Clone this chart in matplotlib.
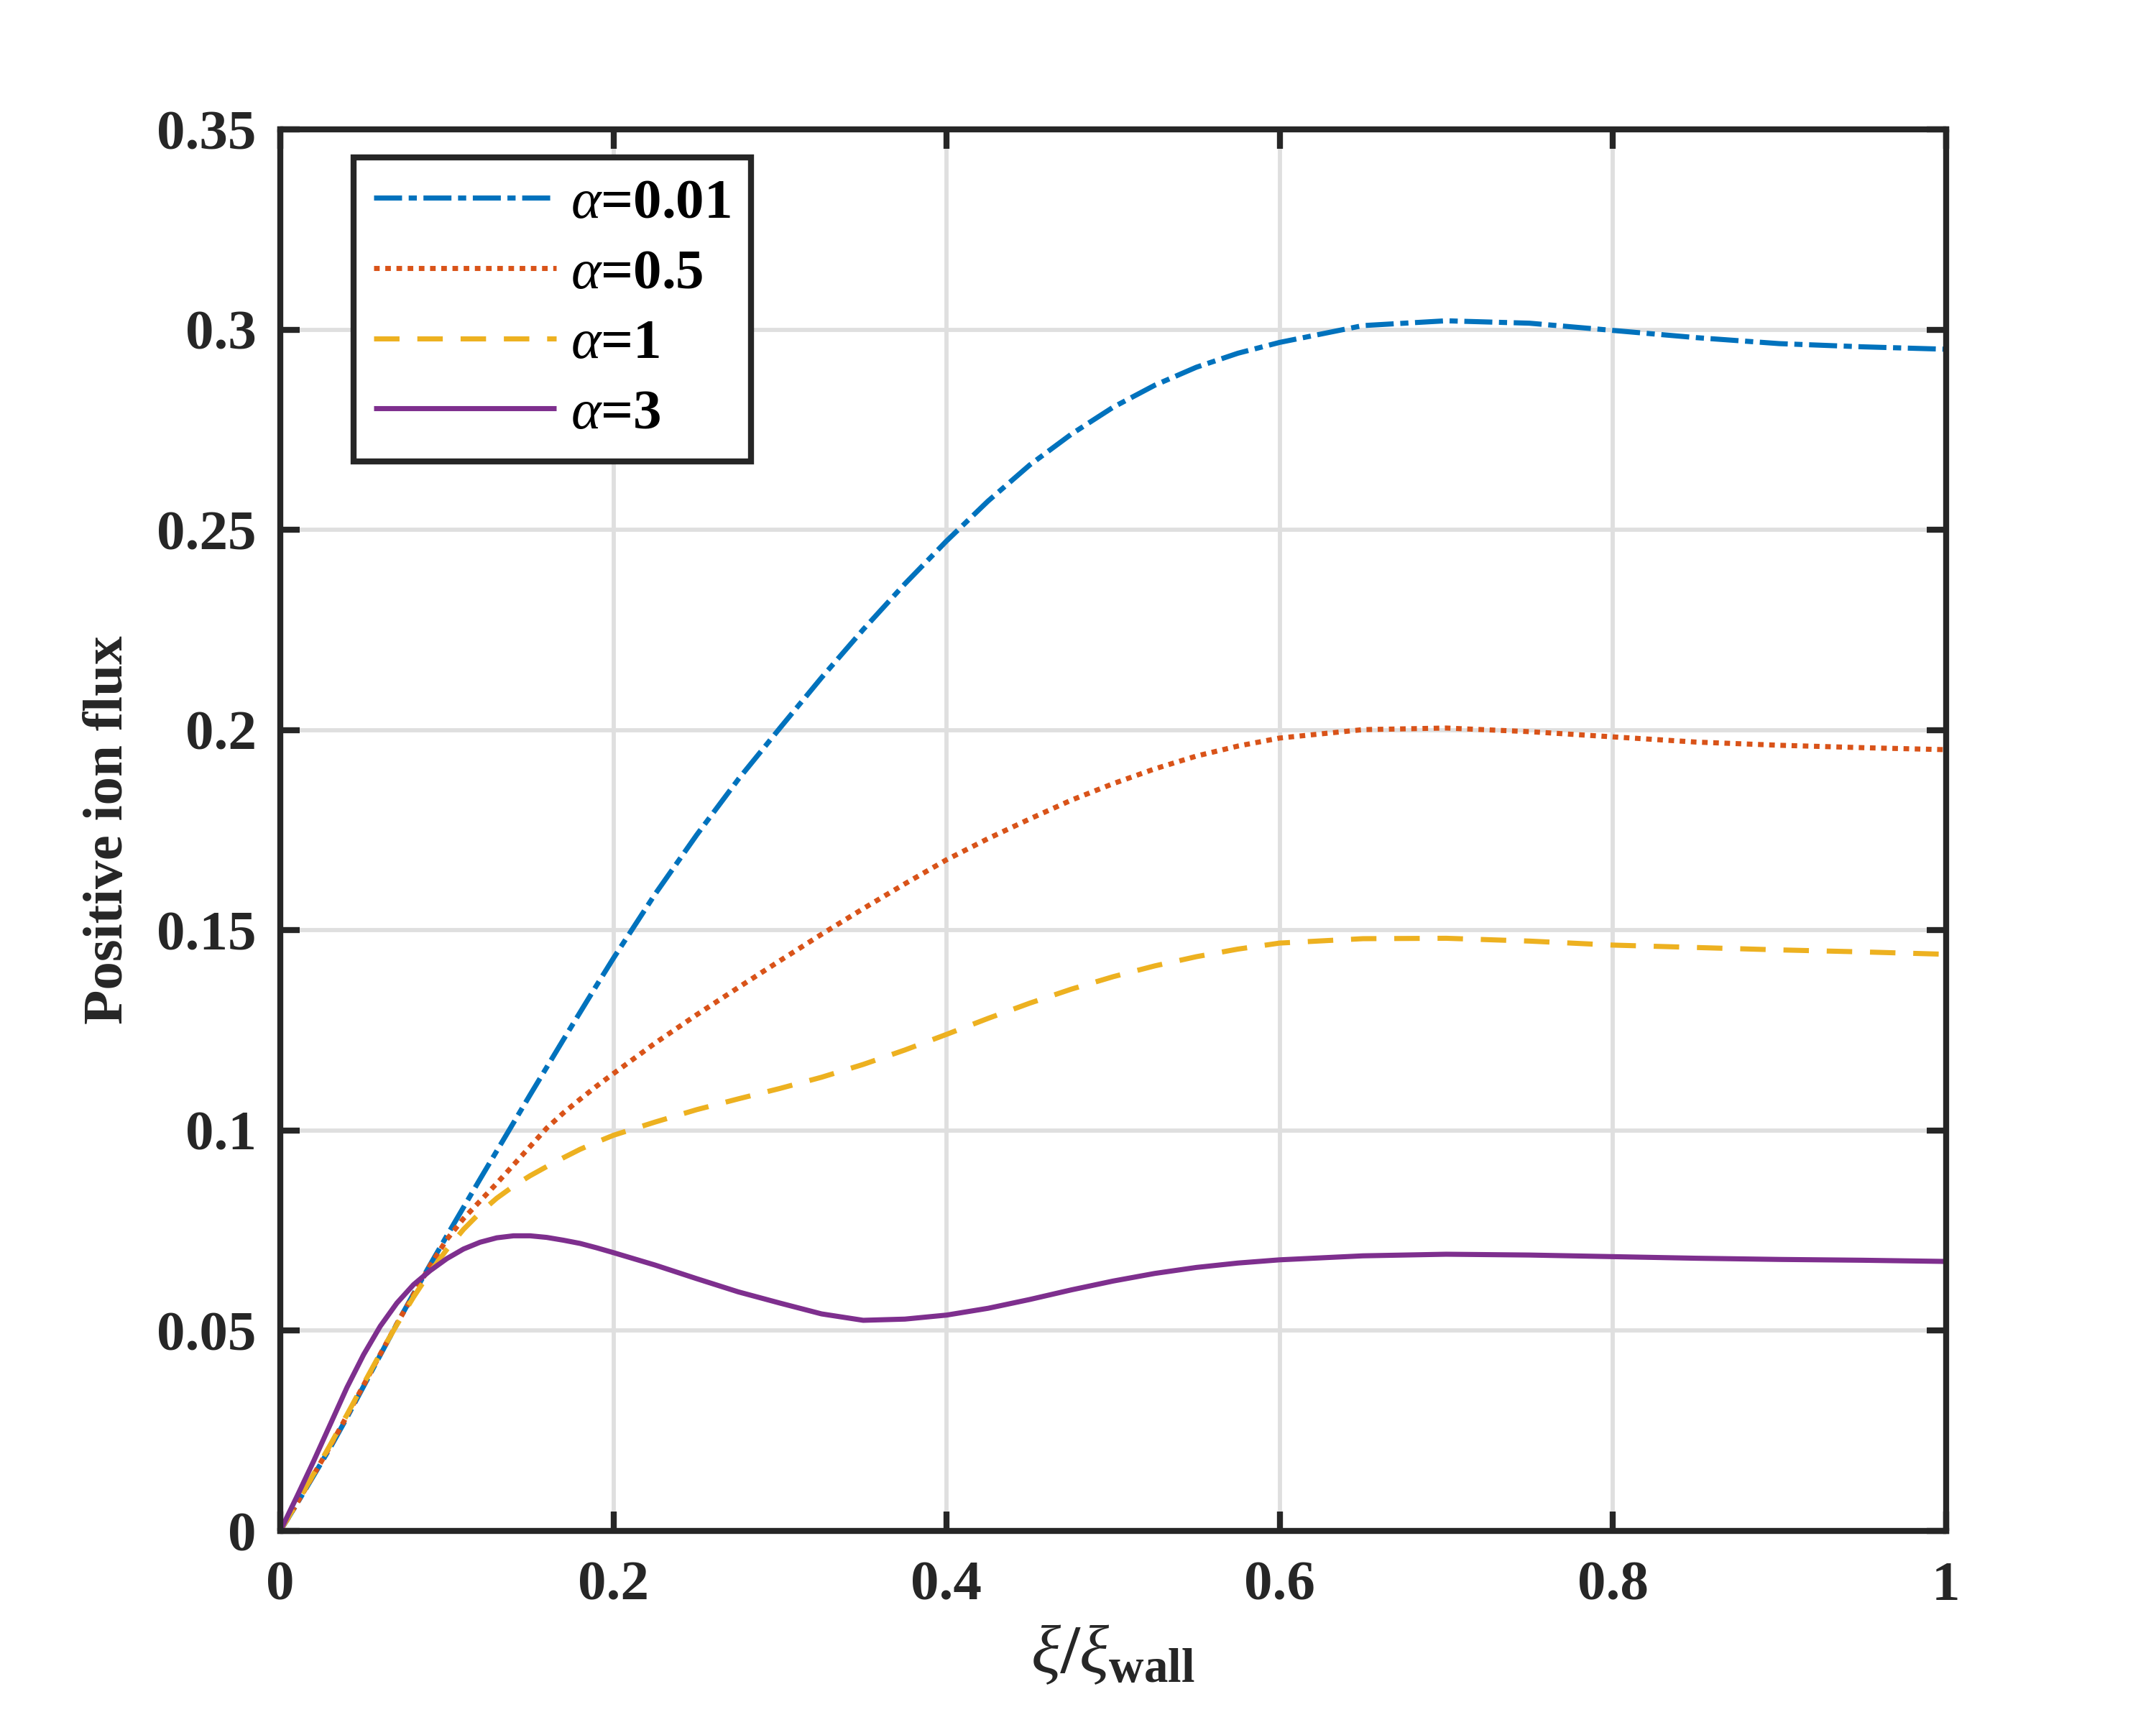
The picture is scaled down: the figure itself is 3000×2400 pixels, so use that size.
import numpy as np
import matplotlib
matplotlib.use("Agg")
import matplotlib.pyplot as plt

# values
xi = [0, 0.01, 0.02, 0.03, 0.04, 0.05, 0.06, 0.07, 0.08, 0.09, 0.1,
      0.11, 0.12, 0.13, 0.14, 0.15, 0.16, 0.17, 0.18, 0.19, 0.2,
      0.225, 0.25, 0.275, 0.3, 0.325, 0.35, 0.375, 0.4, 0.425, 0.45,
      0.475, 0.5, 0.525, 0.55, 0.575, 0.6,
      0.65, 0.7, 0.75, 0.8, 0.85, 0.9, 0.95, 1.0]

flux_001 = [0, 0.0068, 0.0138, 0.0208, 0.0283, 0.0361, 0.0439, 0.0517, 0.0592, 0.0665, 0.0737,
            0.0808, 0.0879, 0.0949, 0.1019, 0.1089, 0.1158, 0.1227, 0.1295, 0.1363, 0.143,
            0.159, 0.1738, 0.1877, 0.2005, 0.2131, 0.2251, 0.2365, 0.2472, 0.2572, 0.2662,
            0.2739, 0.2806, 0.2861, 0.2906, 0.2941, 0.2968,
            0.301, 0.3022, 0.3016, 0.2998, 0.298, 0.2965, 0.2957, 0.2951]
flux_05 = [0, 0.0069, 0.014, 0.0212, 0.0287, 0.0364, 0.0441, 0.0517, 0.059, 0.0663, 0.0728,
           0.078, 0.0824, 0.0868, 0.0914, 0.096, 0.1006, 0.1044, 0.1078, 0.1111, 0.1142,
           0.1218, 0.1289, 0.1357, 0.1424, 0.149, 0.1554, 0.1616, 0.1676, 0.1729, 0.1778,
           0.1825, 0.1866, 0.1903, 0.1935, 0.196, 0.198,
           0.2001, 0.2005, 0.1996, 0.1983, 0.197, 0.1962, 0.1956, 0.1951]
flux_1 = [0, 0.007, 0.0142, 0.0215, 0.029, 0.0367, 0.0443, 0.0515, 0.0584, 0.0647, 0.0703,
          0.0753, 0.0795, 0.0831, 0.0861, 0.0887, 0.091, 0.0932, 0.0953, 0.0971, 0.0988,
          0.1021, 0.1052, 0.1079, 0.1105, 0.1133, 0.1165, 0.1201, 0.124, 0.128, 0.1318,
          0.1353, 0.1384, 0.1411, 0.1434, 0.1453, 0.1468,
          0.1479, 0.148, 0.1473, 0.1463, 0.1457, 0.1451, 0.1446, 0.144]
flux_3 = [0, 0.0086, 0.0174, 0.0266, 0.0358, 0.044, 0.0511, 0.0569, 0.0615, 0.065, 0.068,
          0.0704, 0.0721, 0.0732, 0.0737, 0.0737, 0.0733, 0.0726, 0.0718, 0.0707, 0.0695,
          0.0664, 0.063, 0.0597, 0.0569, 0.0542, 0.0526, 0.0529, 0.0539, 0.0556, 0.0578,
          0.0602, 0.0624, 0.0643, 0.0658, 0.0669, 0.0677,
          0.0687, 0.0691, 0.0689, 0.0685, 0.0681, 0.0678, 0.0676, 0.0673]

labels = [r'$\alpha$=0.01', r'$\alpha$=0.5', r'$\alpha$=1', r'$\alpha$=3']
colors = ['#0072BD', '#D95319', '#EDB120', '#7E2F8E']
styles = [(0, (5.5, 1.3, 1.6, 1.3)), (0, (1.1, 1.1)), (0, (5, 3.5)), '-']

xticks = [0, 0.2, 0.4, 0.6, 0.8, 1]
xticklabels = ['0', '0.2', '0.4', '0.6', '0.8', '1']
yticks = [0, 0.05, 0.1, 0.15, 0.2, 0.25, 0.3, 0.35]
yticklabels = ['0', '0.05', '0.1', '0.15', '0.2', '0.25', '0.3', '0.35']

ink = '#262626'
plt.rcParams['font.family'] = ['Liberation Serif', 'DejaVu Serif']
plt.rcParams['font.weight'] = 'bold'
plt.rcParams['mathtext.fontset'] = 'custom'
plt.rcParams['mathtext.it'] = 'Liberation Serif:style=italic:weight=regular'
plt.rcParams['mathtext.rm'] = 'Liberation Serif:weight=bold'
plt.rcParams['mathtext.bf'] = 'Liberation Serif:weight=bold'

fig = plt.figure(figsize=(10, 8), dpi=300)
ax = fig.add_axes([0.13, 0.1125, 0.7725, 0.8125])

series = [flux_001, flux_05, flux_1, flux_3]
for ys, lab, c, ls in zip(series, labels, colors, styles):
    ax.plot(xi, ys, color=c, linestyle=ls, linewidth=1.7, label=lab,
            dash_capstyle='butt', solid_capstyle='butt')

ax.set_xlim(0, 1)
ax.set_ylim(0, 0.35)
ax.set_xticks(xticks)
ax.set_xticklabels(xticklabels)
ax.set_yticks(yticks)
ax.set_yticklabels(yticklabels)
ax.grid(True, color='#dfdfdf', linewidth=1.4)
ax.set_axisbelow(True)

for s in ax.spines.values():
    s.set_linewidth(2.0)
    s.set_color(ink)
ax.tick_params(direction='in', length=6.5, width=2.0, color=ink, labelcolor=ink,
               labelsize=19, top=True, right=True)
ax.tick_params(axis='x', pad=10)
ax.tick_params(axis='y', pad=8)

ax.set_xlabel(r'$\xi/\xi_{\mathbf{wall}}$', fontsize=23, color=ink, labelpad=4)
ax.set_ylabel('Positive ion flux', fontsize=19, fontweight='bold', color=ink, labelpad=7.5)

leg = ax.legend(loc='upper left', bbox_to_anchor=(0.044, 0.98), fontsize=19,
                handlelength=3.2, handletextpad=0.25, labelspacing=0.32,
                borderpad=0.36, fancybox=False, framealpha=1, edgecolor=ink,
                borderaxespad=0)
leg.get_frame().set_linewidth(2.0)
for t in leg.get_texts():
    t.set_color('black')

fig.savefig('out.png', dpi=300, facecolor='white')
